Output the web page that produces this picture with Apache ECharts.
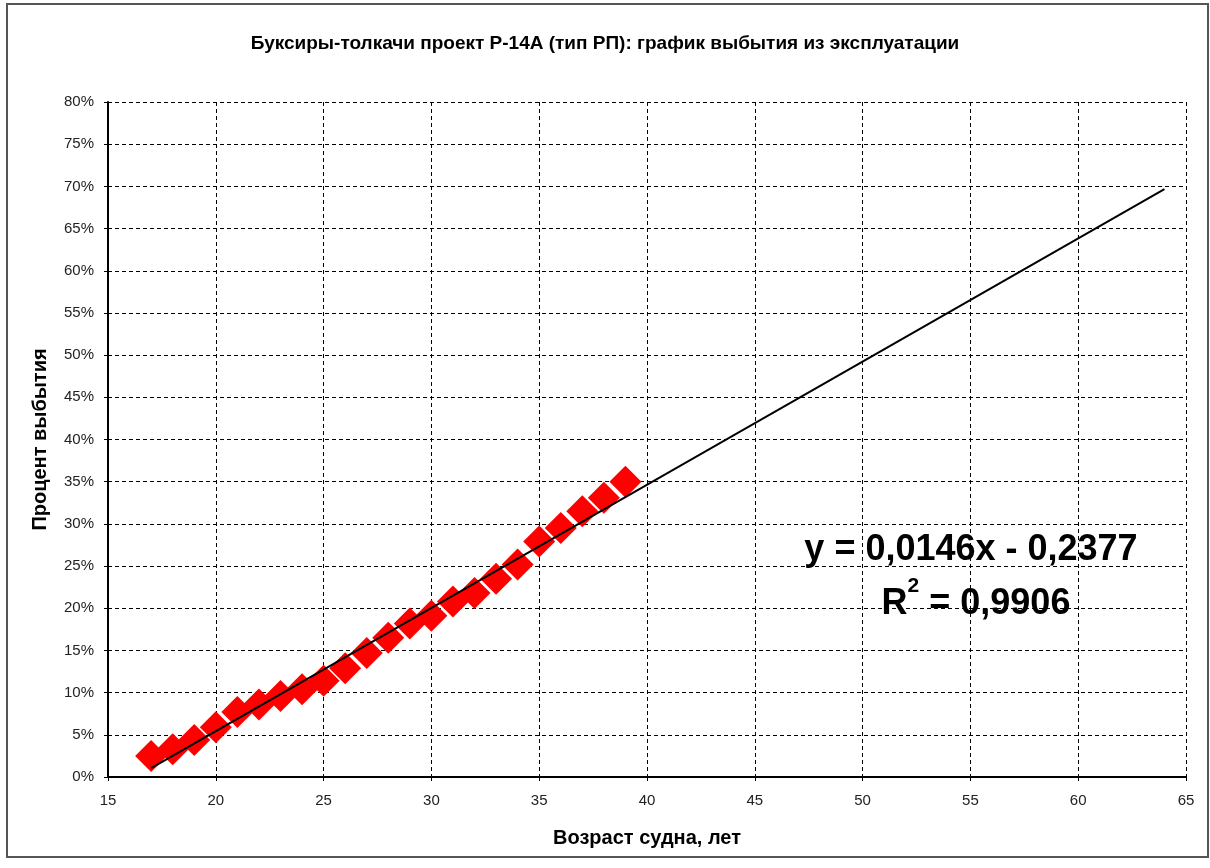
<!DOCTYPE html>
<html>
<head>
<meta charset="utf-8">
<script src="https://cdn.jsdelivr.net/npm/echarts@6/dist/echarts.min.js"></script>
<style>
html,body{margin:0;padding:0;background:#fff;}
#chart{width:1210px;height:868px;}
</style>
</head>
<body>
<div id="chart"></div>
<script>
const titleText = 'Буксиры-толкачи проект Р-14А (тип РП): график выбытия из эксплуатации';
const xAxisName = 'Возраст судна, лет';
const yAxisName = 'Процент выбытия';
const ages = [17,18,19,20,21,22,23,24,25,26,27,28,29,30,31,32,33,34,35,36,37,38,39];
const retired = [0.025,0.033,0.044,0.059,0.077,0.086,0.096,0.104,0.114,0.129,0.147,0.165,0.182,0.191,0.208,0.218,0.235,0.252,0.279,0.295,0.315,0.331,0.350];
const trendX = [17, 64];
const trendY = [0.0105, 0.6967];
const equationText = 'y = 0,0146x - 0,2377';
const r2Text = '0,9906';

const scatterData = ages.map((a,i)=>[a, retired[i]]);
const trendData = trendX.map((a,i)=>[a, trendY[i]]);

const chart = echarts.init(document.getElementById('chart'), null, {renderer:'canvas'});
const FONT = '"Liberation Sans", Arial, sans-serif';
chart.setOption({
  backgroundColor:'#fff',
  animation:false,
  title:{
    text:titleText, left:'center', top:29,
    textStyle:{fontFamily:FONT, fontSize:19, fontWeight:'bold', color:'#000'}
  },
  grid:{left:108, right:24, top:102, bottom:91},
  xAxis:{
    type:'value', min:15, max:65, interval:5,
    name:xAxisName, nameLocation:'middle', nameGap:51,
    nameTextStyle:{fontFamily:FONT, fontSize:20, fontWeight:'bold', color:'#000'},
    axisLine:{onZero:false, lineStyle:{color:'#000', width:2}},
    axisTick:{show:true, length:4, lineStyle:{color:'#000'}},
    axisLabel:{fontFamily:FONT, fontSize:15, color:'#222', margin:16},
    splitLine:{show:true, lineStyle:{color:'#000', type:[4,3], width:1}}
  },
  yAxis:{
    type:'value', min:0, max:0.8, interval:0.05,
    name:yAxisName, nameLocation:'middle', nameGap:58, nameRotate:90,
    nameTextStyle:{fontFamily:FONT, fontSize:20, fontWeight:'bold', color:'#000'},
    axisLine:{show:true, lineStyle:{color:'#000', width:2}},
    axisTick:{show:true, length:4, lineStyle:{color:'#000'}},
    axisLabel:{fontFamily:FONT, fontSize:15, color:'#222', margin:14,
      formatter:v=>Math.round(v*100)+'%'},
    splitLine:{show:true, lineStyle:{color:'#000', type:[4,3], width:1}}
  },
  series:[
    {type:'scatter', data:scatterData, symbol:'diamond', symbolSize:[32,32],
     itemStyle:{color:'#ff0000', opacity:1}, z:2},
    {type:'line', data:trendData, showSymbol:false, symbol:'none',
     lineStyle:{color:'#000', width:2}, z:3}
  ],
  graphic:[
    {type:'rect', shape:{x:7, y:4, width:1201, height:853}, z:-1,
     style:{fill:'none', stroke:'#555', lineWidth:2}},
    {type:'text', x:971, y:550, z:10,
     style:{text:equationText, font:'bold 36px "Liberation Sans", Arial, sans-serif',
       fill:'#000', align:'center', verticalAlign:'middle'}},
    {type:'text', x:976, y:599, z:10,
     style:{text:'{b|R}{s|2}{b| = '+r2Text+'}', align:'center', verticalAlign:'middle',
       rich:{
         b:{font:'bold 36px "Liberation Sans", Arial, sans-serif', fill:'#000', verticalAlign:'bottom'},
         s:{font:'bold 21px "Liberation Sans", Arial, sans-serif', fill:'#000', verticalAlign:'top', padding:[0,0,26,0]}
       }}}
  ]
});
</script>
</body>
</html>
